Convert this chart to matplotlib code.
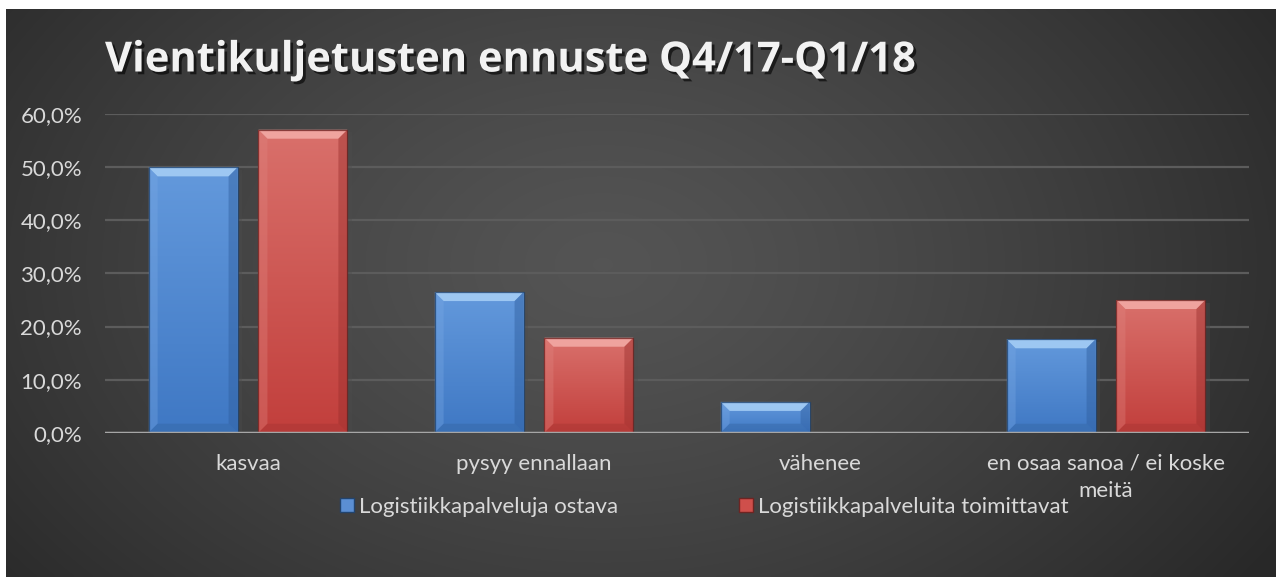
import numpy as np
import matplotlib
matplotlib.use("Agg")
import matplotlib.pyplot as plt
from matplotlib.patches import Polygon
from matplotlib.lines import Line2D
import matplotlib.patheffects as pe
from matplotlib.colors import LinearSegmentedColormap

# ---- data ----
categories = ["kasvaa", "pysyy ennallaan", "vähenee", "en osaa sanoa / ei koske\nmeitä"]
series_names = ["Logistiikkapalveluja ostava", "Logistiikkapalveluita toimittavat"]
ostava = [50.0, 26.5, 5.8, 17.6]
toimittavat = [57.1, 17.9, 0.0, 25.0]
yticks = [0, 10, 20, 30, 40, 50, 60]
ytick_labels = ["0,0%", "10,0%", "20,0%", "30,0%", "40,0%", "50,0%", "60,0%"]
title = "Vientikuljetusten ennuste Q4/17-Q1/18"

W, H, DPI = 1276, 577, 100
plt.rcParams['font.family'] = ['Lato', 'DejaVu Sans']
fig = plt.figure(figsize=(W / DPI, H / DPI), dpi=DPI, facecolor="white")

# ---- background radial gradient (dark chart area) ----
bg = fig.add_axes([6 / W, 0, 1 - 6 / W, 1 - 9 / H])
bg.set_axis_off()
gx, gy = np.meshgrid(np.linspace(0, 1, 400), np.linspace(0, 1, 200))
r = np.sqrt(((gx - 0.47) / 0.62) ** 2 + ((gy - 0.45) / 0.95) ** 2)
r = np.clip(r, 0, 1)
val = 0.33 - 0.17 * r ** 1.3
bg.imshow(np.dstack([val, val, val]), aspect="auto", extent=[0, 1, 0, 1],
          interpolation="bilinear")
bg.set_xlim(0, 1)
bg.set_ylim(0, 1)

# ---- main axes ----
left, right = 105 / W, 1249 / W
bottom, top = 1 - 432.7 / H, 1 - 114.3 / H
ax = fig.add_axes([left, bottom, right - left, top - bottom])
ax.patch.set_alpha(0)
ax.set_xlim(-0.5, len(categories) - 0.5)
ax.set_ylim(0, 60)
for s in ax.spines.values():
    s.set_visible(False)
ax.set_yticks(yticks)
ax.set_yticklabels(ytick_labels)
ax.set_xticks(range(len(categories)))
ax.set_xticklabels(categories, linespacing=1.45)
ax.tick_params(axis="both", length=0, colors="#d9d9d9", labelsize=16)
ax.tick_params(axis="y", pad=16.5)
ax.tick_params(axis="x", pad=15)
ax.grid(axis="y", color="#5c5c5c", linewidth=1.6, zorder=0)
ax.set_axisbelow(True)
ax.axhline(0, color="#a6a6a6", linewidth=2.5, zorder=6)

x = np.arange(len(categories))
bw = 0.311
off = 0.192

ax_wpx = (right - left) * W
ax_hpx = (top - bottom) * H
px_x = (ax.get_xlim()[1] - ax.get_xlim()[0]) / ax_wpx
px_y = (ax.get_ylim()[1] - ax.get_ylim()[0]) / ax_hpx

styles = {
    0: dict(top="#6399dc", bot="#3f78c4", bevel_t="#a4cdf5", bevel_l="#7aa9e4",
            bevel_r="#2f5e9e", bevel_b="#34649f", edge="#22446e"),
    1: dict(top="#d9706b", bot="#c23f3c", bevel_t="#f2aaa5", bevel_l="#e08580",
            bevel_r="#9a2f2d", bevel_b="#a33432", edge="#6e2422"),
}


def bevel_bar(rect, st):
    x0, y0 = rect.get_x(), rect.get_y()
    w, h = rect.get_width(), rect.get_height()
    if h <= 0:
        return
    x1, y1 = x0 + w, y0 + h
    # soft shadow behind the bar
    ax.add_patch(Polygon([(x0, y0), (x0, y1), (x1, y1), (x1, y0)], closed=True,
                         facecolor="black", edgecolor="none", alpha=0.0, zorder=2,
                         path_effects=[pe.SimplePatchShadow(offset=(3, -2),
                                                            alpha=0.35)]))
    cmap = LinearSegmentedColormap.from_list("g", [st["bot"], st["top"]])
    grad = np.linspace(0, 1, 100).reshape(-1, 1)
    im = ax.imshow(grad, cmap=cmap, aspect="auto", origin="lower",
                   extent=[x0, x1, y0, y1], zorder=3, interpolation="bilinear")
    im.set_clip_path(rect)
    bx = 9 * px_x
    by = min(9 * px_y, h / 2)
    polys = [
        ([(x0, y1), (x1, y1), (x1 - bx, y1 - by), (x0 + bx, y1 - by)], st["bevel_t"], 0.9),
        ([(x0, y0), (x0, y1), (x0 + bx, y1 - by), (x0 + bx, y0 + by)], st["bevel_l"], 0.35),
        ([(x1, y0), (x1, y1), (x1 - bx, y1 - by), (x1 - bx, y0 + by)], st["bevel_r"], 0.45),
        ([(x0, y0), (x1, y0), (x1 - bx, y0 + by), (x0 + bx, y0 + by)], st["bevel_b"], 0.4),
    ]
    for pts, c, a in polys:
        ax.add_patch(Polygon(pts, closed=True, facecolor=c, edgecolor="none",
                             alpha=a, zorder=4))
    ax.add_patch(Polygon([(x0, y0), (x0, y1), (x1, y1), (x1, y0)], closed=True,
                         facecolor="none", edgecolor=st["edge"], linewidth=0.9,
                         alpha=0.8, zorder=5))


for i, (vals, name) in enumerate([(ostava, series_names[0]), (toimittavat, series_names[1])]):
    pos = x - off if i == 0 else x + off
    bars = ax.bar(pos, vals, width=bw, color="none", edgecolor="none",
                  zorder=3, label=name)
    for rect in bars:
        bevel_bar(rect, styles[i])

# ---- legend ----
handles = [
    Line2D([], [], linestyle="none", marker="s", markersize=10,
           markerfacecolor="#5b8fd4", markeredgecolor="#22446e"),
    Line2D([], [], linestyle="none", marker="s", markersize=10,
           markerfacecolor="#cf4f4b", markeredgecolor="#6e2422"),
]
leg = fig.legend(handles, series_names, loc="center", ncol=2,
                 bbox_to_anchor=(704 / W, 1 - 507 / H), frameon=False,
                 fontsize=16, labelcolor="#d9d9d9", handlelength=0.7,
                 handletextpad=0.2, columnspacing=5.4)

# ---- title ----
fig.text(105 / W, 1 - 61 / H, title, fontsize=30, fontweight="bold",
         family=["Open Sans", "DejaVu Sans"],
         color="#f2f2f2", ha="left", va="center",
         path_effects=[pe.withSimplePatchShadow(offset=(2, -2), shadow_rgbFace="black",
                                                alpha=0.6)])

fig.savefig("out.png", dpi=DPI, facecolor="white")
